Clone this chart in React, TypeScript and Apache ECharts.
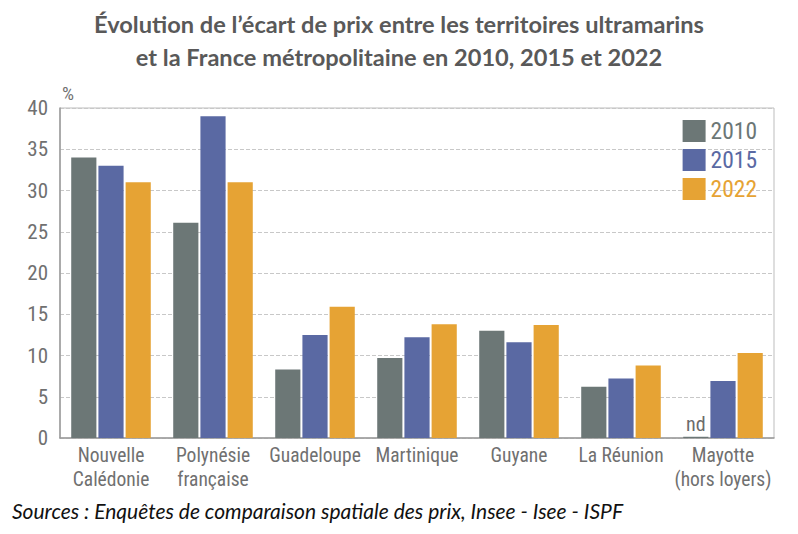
import React, { useEffect, useRef } from "react";
import * as echarts from "echarts";

const categories = [
  "Nouvelle\nCalédonie",
  "Polynésie\nfrançaise",
  "Guadeloupe",
  "Martinique",
  "Guyane",
  "La Réunion",
  "Mayotte\n(hors loyers)",
];
const years = ["2010", "2015", "2022"];
const values2010 = [34.0, 26.1, 8.3, 9.7, 13.0, 6.2, 0.15];
const values2015 = [33.0, 39.0, 12.5, 12.2, 11.6, 7.2, 6.9];
const values2022 = [31.0, 31.0, 15.9, 13.8, 13.7, 8.8, 10.3];
const notAvailable2010 = [false, false, false, false, false, false, true];
const yTicks = [0, 5, 10, 15, 20, 25, 30, 35, 40];

const colors = ["#6c7776", "#5a69a3", "#e6a334"];
const narrow = "'Liberation Sans Narrow', 'Roboto Condensed', 'Liberation Sans', sans-serif";

export default function App() {
  const ref = useRef<HTMLDivElement>(null);
  useEffect(() => {
    if (!ref.current) return;
    const chart = echarts.init(ref.current, undefined, { renderer: "svg" });
    const series = [values2010, values2015, values2022].map((vals, i) => ({
      name: years[i],
      type: "bar",
      data: vals.map((v, j) =>
        i === 0 && notAvailable2010[j]
          ? {
              value: v,
              label: {
                show: true,
                position: "top",
                formatter: "nd",
                color: "#6b6b6b",
                fontSize: 20,
                distance: 3,
                fontFamily: narrow,
              },
            }
          : v
      ),
      itemStyle: { color: colors[i] },
      barGap: "8%",
      barCategoryGap: "22%",
    }));
    chart.setOption({
      animation: false,
      title: {
        text: "Évolution de l’écart de prix entre les territoires ultramarins\net la France métropolitaine en 2010, 2015 et 2022",
        left: "center",
        top: 2,
        textStyle: {
          fontFamily: "Lato, 'Open Sans', sans-serif",
          fontWeight: "bold",
          fontSize: 23.6,
          lineHeight: 33,
          color: "#595959",
        },
      },
      legend: {
        orient: "vertical",
        right: 36,
        top: 114,
        itemWidth: 23,
        itemHeight: 22,
        itemGap: 5,
        icon: "rect",
        textStyle: { fontFamily: narrow, fontSize: 23.5 },
        data: years.map((y, i) => ({ name: y, textStyle: { color: colors[i] } })),
      },
      grid: {
        left: 60,
        right: 24,
        top: 108,
        bottom: 96,
        show: true,
        borderColor: "#bdbdbd",
        borderWidth: 1,
      },
      xAxis: {
        type: "category",
        data: categories,
        axisLine: { lineStyle: { color: "#9a9a9a", width: 1.5 } },
        axisTick: { show: false },
        axisLabel: {
          color: "#707070",
          fontFamily: narrow,
          fontSize: 19.5,
          lineHeight: 24,
          margin: 5,
          interval: 0,
        },
      },
      yAxis: {
        type: "value",
        min: yTicks[0],
        max: yTicks[yTicks.length - 1],
        interval: 5,
        name: "%",
        nameGap: 5,
        nameTextStyle: {
          color: "#707070",
          fontFamily: narrow,
          fontSize: 19,
          align: "left",
          padding: [0, 0, 0, 2],
        },
        axisLine: { show: true, lineStyle: { color: "#9a9a9a", width: 1.5 } },
        axisTick: { show: false },
        axisLabel: {
          color: "#707070",
          fontFamily: narrow,
          fontSize: 21,
          margin: 12,
        },
        splitLine: { lineStyle: { color: "#c8c8c8", type: "dashed", width: 1 } },
      },
      graphic: [
        {
          type: "text",
          left: 12,
          top: 500,
          style: {
            text: "Sources : Enquêtes de comparaison spatiale des prix, Insee - Isee - ISPF",
            fontFamily: "Lato, 'Open Sans', sans-serif",
            fontStyle: "italic",
            fontSize: 21,
            fill: "#111",
          },
        },
      ],
      series,
    });
    return () => chart.dispose();
  }, []);
  return <div ref={ref} style={{ width: 798, height: 534, position: "absolute", left: 0, top: 0 }} />;
}
